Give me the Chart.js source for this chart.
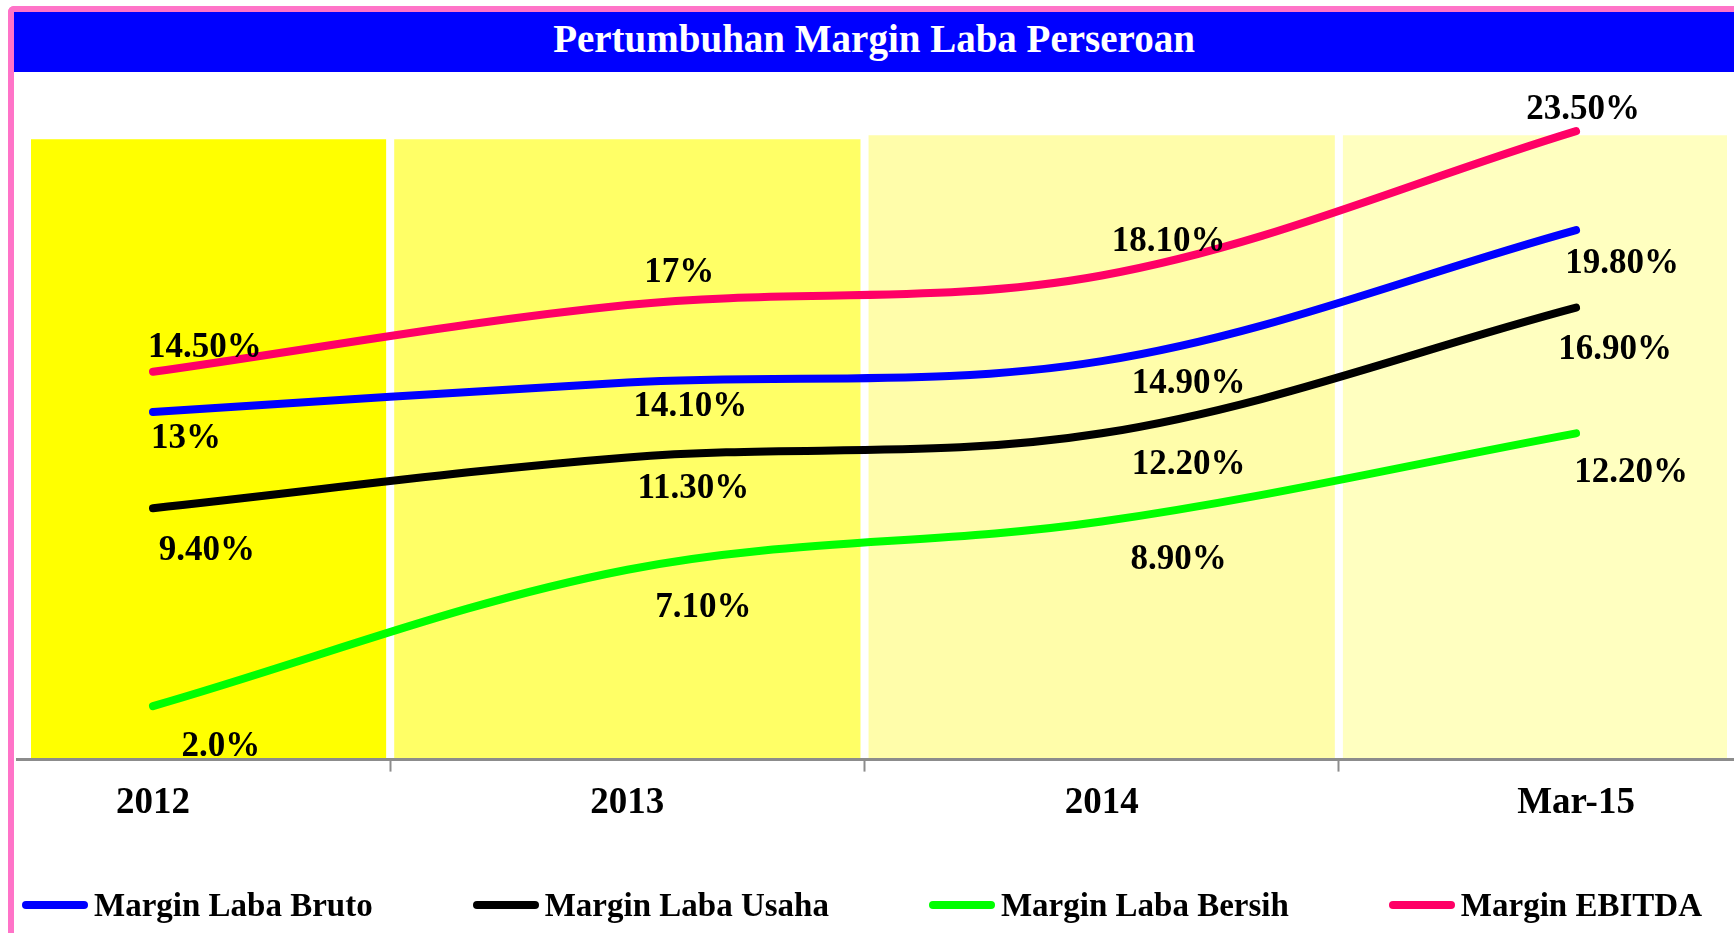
<!DOCTYPE html>
<html>
<head>
<meta charset="utf-8">
<title>Pertumbuhan Margin Laba Perseroan</title>
<script src="https://cdn.jsdelivr.net/npm/chart.js@4.4.1/dist/chart.umd.min.js"></script>
<style>
  html, body { margin: 0; padding: 0; background: #fff; }
  body { width: 1734px; height: 933px; position: relative; overflow: hidden; font-family: "Liberation Serif", serif; }
  #chart { position: absolute; left: 0; top: 0; }
  #frame { position: absolute; left: 8px; top: 6px; width: 1800px; height: 1000px;
           border-left: 6px solid #ff73c8; border-top: 6px solid #ff73c8; border-top-left-radius: 6px; }
  #titleBar { position: absolute; left: 14px; top: 12px; right: 0; height: 60px; background: #0000ff;
              color: #fff; font-weight: bold; font-size: 39px; line-height: 54px; text-align: center; }
  #legend { position: absolute; left: 22px; width: 1680px; top: 884px; height: 42px;
            display: flex; justify-content: space-between; align-items: center;
            font-weight: bold; font-size: 33px; color: #000; }
  .item { display: flex; align-items: center; white-space: nowrap; }
  .swatch { width: 66px; height: 8px; border-radius: 4px; margin-right: 6px; }
</style>
</head>
<body>
<canvas id="chart" width="1734" height="933"></canvas>
<div id="frame"></div>
<div id="titleBar">Pertumbuhan Margin Laba Perseroan</div>
<div id="legend"></div>

<script>
/* ---- data ---- */
const categories   = ['2012', '2013', '2014', 'Mar-15'];
const marginBruto  = [13.0, 14.1, 14.9, 19.8];
const marginUsaha  = [9.4, 11.3, 12.2, 16.9];
const marginBersih = [2.0, 7.1, 8.9, 12.2];
const marginEbitda = [14.5, 17.0, 18.1, 23.5];

// value labels as printed on the chart
const labelsBruto  = ['13%', '14.10%', '14.90%', '19.80%'];
const labelsUsaha  = ['9.40%', '11.30%', '12.20%', '16.90%'];
const labelsBersih = ['2.0%', '7.10%', '8.90%', '12.20%'];
const labelsEbitda = ['14.50%', '17%', '18.10%', '23.50%'];

// background column heights (same % units as the lines)
const bandTop = [23.2, 23.2, 23.35, 23.35];

/* ---- styling ---- */
const bandColors = ['#ffff00', '#ffff66', '#fffdaa', '#ffffc0'];
const FONT = '"Liberation Serif", serif';

const series = [
  { label: 'Margin Laba Bruto',  values: marginBruto,  text: labelsBruto,  color: '#0000ff',
    offsets: [[33, 27], [63, 24], [87, 23], [46, 34]] },
  { label: 'Margin Laba Usaha',  values: marginUsaha,  text: labelsUsaha,  color: '#000000',
    offsets: [[54, 43], [66, 32], [87, 32], [39, 42]] },
  { label: 'Margin Laba Bersih', values: marginBersih, text: labelsBersih, color: '#00ff00',
    offsets: [[68, 41], [76, 38], [77, 38], [55, 40]] },
  { label: 'Margin EBITDA',      values: marginEbitda, text: labelsEbitda, color: '#ff0066',
    offsets: [[52, -24], [52, -32], [67, -34], [7, -21]] }
];

const toPoints = arr => arr.map((v, i) => ({ x: i, y: v }));

const lineSets = series.map(s => ({
  type: 'line',
  label: s.label,
  data: toPoints(s.values),
  borderColor: s.color,
  backgroundColor: s.color,
  borderWidth: 8,
  borderCapStyle: 'round',
  borderJoinStyle: 'round',
  pointRadius: 0,
  tension: 0.35,
  fill: false,
  order: 1,
  valueLabels: s.text,
  labelOffsets: s.offsets
}));

const bandSet = {
  type: 'bar',
  label: 'band',
  data: toPoints(bandTop),
  backgroundColor: bandColors,
  borderWidth: 0,
  categoryPercentage: 1,
  barPercentage: 0.983,
  order: 10,
  clip: { left: -14, right: -7, top: false, bottom: 0 }
};

// value labels next to each point
const pointLabels = {
  id: 'pointLabels',
  afterDatasetsDraw(chart) {
    const ctx = chart.ctx;
    ctx.save();
    ctx.font = 'bold 35px ' + FONT;
    ctx.fillStyle = '#000';
    ctx.textAlign = 'center';
    ctx.textBaseline = 'middle';
    chart.data.datasets.forEach((ds, di) => {
      if (!ds.valueLabels) return;
      chart.getDatasetMeta(di).data.forEach((pt, i) => {
        const [dx, dy] = ds.labelOffsets[i];
        ctx.fillText(ds.valueLabels[i], pt.x + dx, pt.y + dy);
      });
    });
    ctx.restore();
  }
};

new Chart(document.getElementById('chart'), {
  type: 'line',
  data: { datasets: [...lineSets, bandSet] },
  options: {
    responsive: false,
    animation: false,
    layout: { padding: { top: 91, left: 17, right: 0, bottom: 97 } },
    plugins: {
      legend: { display: false },
      tooltip: { enabled: false }
    },
    scales: {
      x: {
        type: 'linear',
        offset: false,
        min: -0.2867,
        max: 3.333,
        afterBuildTicks: axis => { axis.ticks = categories.map((c, i) => ({ value: i })); },
        grid: {
          display: true,
          offset: true,
          drawOnChartArea: false,
          drawTicks: true,
          tickLength: 12,
          tickWidth: 2,
          tickColor: '#8c8c8c'
        },
        border: { display: true, color: '#8c8c8c', width: 3, z: 1 },
        ticks: {
          autoSkip: false,
          maxRotation: 0,
          padding: 10,
          color: '#000',
          font: { family: FONT, size: 37, weight: 'bold' },
          callback: v => categories[v] ?? ''
        }
      },
      y: {
        display: false,
        min: 0,
        max: 25
      }
    }
  },
  plugins: [pointLabels]
});

// legend below the plot
const legendBox = document.getElementById('legend');
legendBox.innerHTML = series.map(s => `
  <div class="item">
    <span class="swatch" style="background:${s.color}"></span>
    <span>${s.label}</span>
  </div>`).join('');
</script>
</body>
</html>
